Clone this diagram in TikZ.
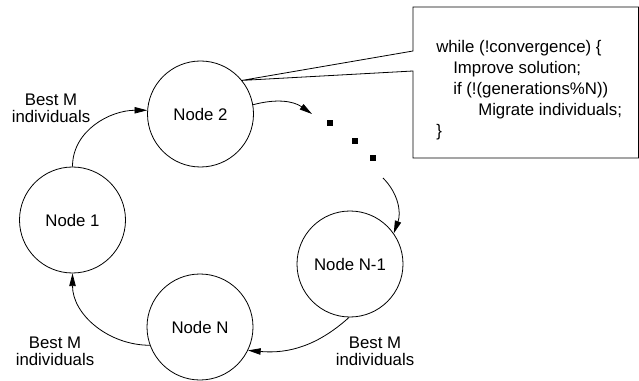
\documentclass[tikz,border=0pt]{standalone}
\usepackage{fontspec}
\setmainfont{Liberation Sans}
\usetikzlibrary{arrows.meta}
\begin{document}
\begin{tikzpicture}[x=0.75pt,y=0.75pt,
  every node/.style={font=\fontsize{12.6}{12.75}\selectfont},
  peer/.style={draw, circle, minimum size=79.5pt, inner sep=0pt, line width=0.6pt},
  link/.style={line width=0.6pt, -{Triangle[length=9.5pt,width=4.8pt]}},
  lbl/.style={align=center, inner sep=0pt},
  codeline/.style={anchor=base west, inner sep=0pt},
  dotsq/.style={fill, minimum size=4.5pt, inner sep=0pt}]
\useasboundingbox (0,0) rectangle (639,-381);
% peers
\node[peer] (n2) at (200.5,-114) {Node 2};
\node[peer] (n1) at (72.5,-220) {Node 1};
\node[peer] (nN) at (200,-327) {Node N};
\node[peer] (nN1) at (350,-264) {Node N-1};
% ellipsis dots
\node[dotsq] (d1) at (330,-123.5) {};
\node[dotsq] (d2) at (355.3,-140.7) {};
\node[dotsq] (d3) at (372.7,-157.7) {};
\coordinate (t0) at (312,-114);
\coordinate (s1) at (383,-178);
% connectors
\draw[link] (n1.90) to[out=90,in=180] (n2.176);
\draw[link] (n2.10) to[out=15,in=145] (t0);
\draw[link] (s1) to[out=-45,in=70] (nN1.35);
\draw[link] (nN1.-91) to[out=222,in=-5] (nN.-26);
\draw[link] (nN.200) to[out=180,in=-90] (n1.-90);
% callout box
\coordinate (b1) at (413,-51);
\coordinate (b2) at (413,-71);
\coordinate (b3) at (413,-158);
\coordinate (b4) at (638.4,-158);
\coordinate (b5) at (638.4,-7);
\coordinate (b6) at (413,-7);
\draw[line width=0.6pt, line join=miter] (b1) -- (n2.39) -- (b2) -- (b3) -- (b4) -- (b5) -- (b6) -- cycle;
% code text
\node[codeline] (c1) at (436,-53) {while (!convergence) \{};
\node[codeline] (c2) at (453,-74) {Improve solution;};
\node[codeline] (c3) at (453,-95) {if (!(generations\%N))};
\node[codeline] (c4) at (478,-116) {Migrate individuals;};
\node[codeline] (c5) at (436,-137) {\}};
% labels
\node[lbl] (l1) at (51,-108.5) {Best M\\individuals};
\node[lbl] (l2) at (55,-351.5) {Best M\\individuals};
\node[lbl] (l3) at (375,-351.5) {Best M\\individuals};
\end{tikzpicture}
\end{document}
